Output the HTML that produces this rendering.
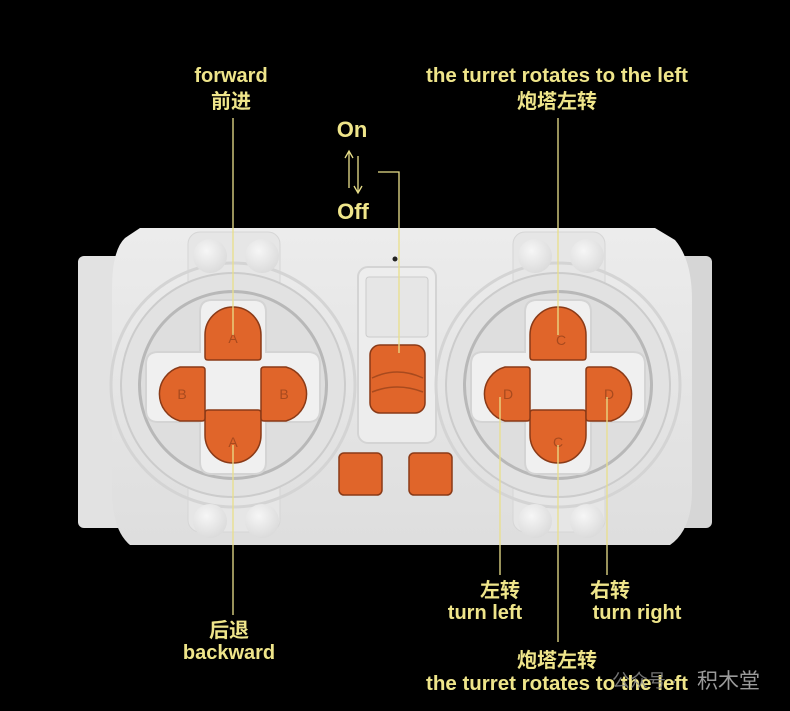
<!DOCTYPE html>
<html><head><meta charset="utf-8"><style>
html,body{margin:0;padding:0;background:#000;}
svg{display:block}
text{font-family:"Liberation Sans","Noto Sans CJK SC",sans-serif;font-weight:bold;fill:#efe58a;}
</style></head><body>
<svg width="790" height="711" viewBox="0 0 790 711" xmlns="http://www.w3.org/2000/svg">
<defs>
<radialGradient id="stud" cx="40%" cy="35%" r="70%"><stop offset="0" stop-color="#f6f6f6"/><stop offset="1" stop-color="#dadada"/></radialGradient>
<linearGradient id="body" x1="0" y1="0" x2="0" y2="1"><stop offset="0" stop-color="#ececec"/><stop offset="1" stop-color="#dedede"/></linearGradient>
</defs>
<rect width="790" height="711" fill="#000"/>
<rect x="78" y="256" width="50" height="272" rx="6" fill="#e2e2e2"/>
<rect x="664" y="256" width="48" height="272" rx="6" fill="#d6d6d6"/>
<path d="M140 228 H655 L675 240 Q692 260 692 300 V490 Q692 530 670 545 H130 Q112 530 112 490 V290 Q112 250 125 238 Z" fill="url(#body)"/>
<rect x="358" y="267" width="78" height="176" rx="10" fill="#ededed" stroke="#d4d4d4" stroke-width="2"/>
<rect x="366" y="277" width="62" height="60" rx="3" fill="#e6e6e6" stroke="#cccccc"/>
<circle cx="395" cy="259" r="2.5" fill="#222"/>
<g>
<rect x="188" y="232" width="92" height="300" rx="12" fill="#e6e6e6" stroke="#d6d6d6"/>
<circle cx="233" cy="385" r="122" fill="none" stroke="#d4d4d4" stroke-width="3"/>
<circle cx="233" cy="385" r="112" fill="#e2e2e2" stroke="#cccccc" stroke-width="2"/>
<circle cx="233" cy="385" r="95" fill="#b8b8b8"/>
<circle cx="233" cy="385" r="92" fill="#dedede"/>
<path d="M200 312 Q200 300 212 300 H254 Q266 300 266 312 V352 H308 Q320 352 320 364 V410 Q320 422 308 422 H266 V462 Q266 474 254 474 H212 Q200 474 200 462 V422 H158 Q146 422 146 410 V364 Q146 352 158 352 H200 Z" fill="#f0f0f0" stroke="#d4d4d4" stroke-width="2"/>
<circle cx="210" cy="256" r="17" fill="url(#stud)"/><circle cx="262" cy="256" r="17" fill="url(#stud)"/>
<circle cx="210" cy="521" r="17" fill="url(#stud)"/><circle cx="262" cy="521" r="17" fill="url(#stud)"/>
</g>
<g>
<rect x="513" y="232" width="92" height="300" rx="12" fill="#e6e6e6" stroke="#d6d6d6"/>
<circle cx="558" cy="385" r="122" fill="none" stroke="#d4d4d4" stroke-width="3"/>
<circle cx="558" cy="385" r="112" fill="#e2e2e2" stroke="#cccccc" stroke-width="2"/>
<circle cx="558" cy="385" r="95" fill="#b8b8b8"/>
<circle cx="558" cy="385" r="92" fill="#dedede"/>
<path d="M525 312 Q525 300 537 300 H579 Q591 300 591 312 V352 H633 Q645 352 645 364 V410 Q645 422 633 422 H591 V462 Q591 474 579 474 H537 Q525 474 525 462 V422 H483 Q471 422 471 410 V364 Q471 352 483 352 H525 Z" fill="#f0f0f0" stroke="#d4d4d4" stroke-width="2"/>
<circle cx="535" cy="256" r="17" fill="url(#stud)"/><circle cx="587" cy="256" r="17" fill="url(#stud)"/>
<circle cx="535" cy="521" r="17" fill="url(#stud)"/><circle cx="587" cy="521" r="17" fill="url(#stud)"/>
</g>
<g fill="#e0652a" stroke="#8a3a17" stroke-width="1.5">
<path d="M205 357 V335 A28 28 0 0 1 261 335 V357 Q261 360 258 360 H208 Q205 360 205 357 Z"/>
<path d="M205 413 V435 A28 28 0 0 0 261 435 V413 Q261 410 258 410 H208 Q205 410 205 413 Z"/>
<path d="M202 367 H180 A28 28 0 0 0 180 421 H202 Q205 421 205 418 V370 Q205 367 202 367 Z"/>
<path d="M264 367 H286 A28 28 0 0 1 286 421 H264 Q261 421 261 418 V370 Q261 367 264 367 Z"/>
<path d="M530 357 V335 A28 28 0 0 1 586 335 V357 Q586 360 583 360 H533 Q530 360 530 357 Z"/>
<path d="M530 413 V435 A28 28 0 0 0 586 435 V413 Q586 410 583 410 H533 Q530 410 530 413 Z"/>
<path d="M527 367 H505 A28 28 0 0 0 505 421 H527 Q530 421 530 418 V370 Q530 367 527 367 Z"/>
<path d="M589 367 H611 A28 28 0 0 1 611 421 H589 Q586 421 586 418 V370 Q586 367 589 367 Z"/>
<rect x="370" y="345" width="55" height="68" rx="10"/>
<rect x="339" y="453" width="43" height="42" rx="5"/>
<rect x="409" y="453" width="43" height="42" rx="5"/>
</g>
<g font-size="14">
<text x="233" y="343" text-anchor="middle" style="fill:#a84a1e;font-weight:normal">A</text>
<text x="233" y="447" text-anchor="middle" style="fill:#a84a1e;font-weight:normal">A</text>
<text x="182" y="399" text-anchor="middle" style="fill:#a84a1e;font-weight:normal">B</text>
<text x="284" y="399" text-anchor="middle" style="fill:#a84a1e;font-weight:normal">B</text>
<text x="561" y="345" text-anchor="middle" style="fill:#a84a1e;font-weight:normal">C</text>
<text x="558" y="447" text-anchor="middle" style="fill:#a84a1e;font-weight:normal">C</text>
<text x="508" y="399" text-anchor="middle" style="fill:#a84a1e;font-weight:normal">D</text>
<text x="609" y="399" text-anchor="middle" style="fill:#a84a1e;font-weight:normal">D</text>
</g>
<path d="M372 378 Q397 366 423 378 M372 392 Q397 382 423 392" stroke="#a84a1e" stroke-width="1.5" fill="none"/>
<g stroke="#e9df8a" stroke-width="1.3" fill="none">
<line x1="233" y1="118" x2="233" y2="335"/>
<line x1="233" y1="445" x2="233" y2="615"/>
<line x1="558" y1="118" x2="558" y2="335"/>
<line x1="558" y1="445" x2="558" y2="642"/>
<line x1="500" y1="397" x2="500" y2="575"/>
<line x1="607" y1="397" x2="607" y2="575"/>
<path d="M378 172 H399 V353"/>
<line x1="349" y1="188" x2="349" y2="152"/>
<path d="M345 158 L349 151 L353 158"/>
<line x1="358" y1="156" x2="358" y2="192"/>
<path d="M354 186 L358 193 L362 186"/>
</g>
<g font-size="20" text-anchor="middle">
<text x="231" y="82">forward</text>
<text x="231" y="108">前进</text>
<text x="557" y="82" textLength="262" lengthAdjust="spacingAndGlyphs">the turret rotates to the left</text>
<text x="557" y="108">炮塔左转</text>
<text x="352" y="137" font-size="22">On</text>
<text x="353" y="219" font-size="22">Off</text>
<text x="500" y="597">左转</text>
<text x="485" y="619">turn left</text>
<text x="610" y="597">右转</text>
<text x="637" y="619">turn right</text>
<text x="229" y="637">后退</text>
<text x="229" y="659">backward</text>
<text x="557" y="667">炮塔左转</text>
<text x="557" y="690" textLength="262" lengthAdjust="spacingAndGlyphs">the turret rotates to the left</text>
</g>
<text x="612" y="687" font-size="18" style="fill:#8a8a8a;font-weight:normal;opacity:.85">公众号 · </text>
<text x="697" y="688" font-size="21" style="fill:#9a9a9a;font-weight:normal">积木堂</text>
</svg>
</body></html>
